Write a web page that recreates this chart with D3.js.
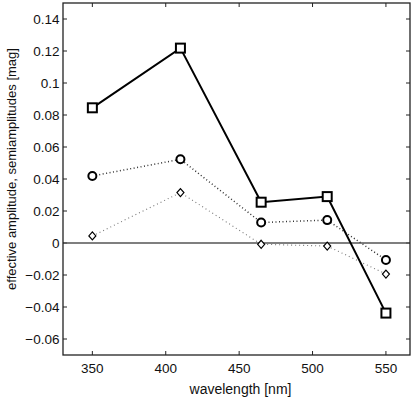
<!DOCTYPE html>
<html>
<head>
<meta charset="utf-8">
<script src="https://cdn.jsdelivr.net/npm/d3@7"></script>
<style>
  body { margin: 0; background: #fff; }
  text { font-family: "Liberation Sans", Arial, sans-serif; }
</style>
</head>
<body>
<div id="chart-container"></div>
<script>
/**************************************************
 * Data
 **************************************************/
const wavelengths = [350, 410, 465, 510, 550];
const effectiveAmp = [0.0845, 0.1218, 0.0255, 0.029, -0.0438];
const semiAmpCircle = [0.0419, 0.0523, 0.0128, 0.0143, -0.0106];
const semiAmpDiamond = [0.0044, 0.0315, -0.0008, -0.0019, -0.0194];
const xTicks = [350, 400, 450, 500, 550];
const yTicks = [-0.06, -0.04, -0.02, 0, 0.02, 0.04, 0.06, 0.08, 0.1, 0.12, 0.14];

/**************************************************
 * Rendering
 **************************************************/
function renderChart() {
  const width = 419, height = 398;
  const plotL = 63, plotR = 410, plotT = 3, plotB = 355;

  const svg = d3.select("#chart-container")
    .append("svg")
    .attr("width", width)
    .attr("height", height);

  const x = d3.scaleLinear().domain([330, 566.4]).range([plotL, plotR]);
  const y = d3.scaleLinear().domain([-0.07, 0.15]).range([plotB, plotT]);

  const fmt = v => {
    if (v === 0) return "0";
    return String(+v.toFixed(2)).replace("-", "\u2212");
  };

  // ticks inward on all four sides
  const tickLen = 4;
  const frame = svg.append("g").attr("stroke", "#222").attr("stroke-width", 1);
  xTicks.forEach(t => {
    frame.append("line").attr("x1", x(t)).attr("x2", x(t)).attr("y1", plotB).attr("y2", plotB - tickLen);
    frame.append("line").attr("x1", x(t)).attr("x2", x(t)).attr("y1", plotT).attr("y2", plotT + tickLen);
  });
  yTicks.forEach(t => {
    frame.append("line").attr("x1", plotL).attr("x2", plotL + tickLen).attr("y1", y(t)).attr("y2", y(t));
    frame.append("line").attr("x1", plotR).attr("x2", plotR - tickLen).attr("y1", y(t)).attr("y2", y(t));
  });

  // zero line
  svg.append("line")
    .attr("x1", plotL).attr("x2", plotR)
    .attr("y1", y(0)).attr("y2", y(0))
    .attr("stroke", "#555").attr("stroke-width", 1.3);

  svg.append("rect")
    .attr("x", plotL).attr("y", plotT)
    .attr("width", plotR - plotL).attr("height", plotB - plotT)
    .attr("fill", "none").attr("stroke", "#222").attr("stroke-width", 1.3);

  // tick labels
  xTicks.forEach(t => {
    svg.append("text")
      .attr("x", x(t)).attr("y", 373)
      .attr("text-anchor", "middle")
      .attr("font-size", "13.5px")
      .attr("fill", "#111")
      .text(t);
  });
  yTicks.forEach(t => {
    svg.append("text")
      .attr("x", 59.5).attr("y", y(t))
      .attr("text-anchor", "end")
      .attr("dominant-baseline", "central")
      .attr("font-size", "13.5px")
      .attr("fill", "#111")
      .text(fmt(t));
  });

  // axis labels
  svg.append("text")
    .attr("x", (plotL + plotR) / 2 + 4).attr("y", 394)
    .attr("text-anchor", "middle")
    .attr("font-size", "14px")
    .attr("fill", "#111")
    .text("wavelength [nm]");

  svg.append("text")
    .attr("transform", "translate(11, 169) rotate(-90)")
    .attr("text-anchor", "middle")
    .attr("dominant-baseline", "central")
    .attr("font-size", "13px")
    .attr("fill", "#111")
    .text("effective amplitude, semiamplitudes [mag]");

  const line = d3.line().x((d, i) => x(wavelengths[i])).y(d => y(d));

  // diamond series
  svg.append("path")
    .datum(semiAmpDiamond)
    .attr("d", line)
    .attr("fill", "none")
    .attr("stroke", "#777")
    .attr("stroke-width", 1.1)
    .attr("stroke-dasharray", "1,3");

  // circle series
  svg.append("path")
    .datum(semiAmpCircle)
    .attr("d", line)
    .attr("fill", "none")
    .attr("stroke", "#333")
    .attr("stroke-width", 1.5)
    .attr("stroke-dasharray", "1,2.5");

  // square series
  svg.append("path")
    .datum(effectiveAmp)
    .attr("d", line)
    .attr("fill", "none")
    .attr("stroke", "#000")
    .attr("stroke-width", 2);

  semiAmpDiamond.forEach((v, i) => {
    const cx = x(wavelengths[i]), cy = y(v);
    svg.append("path")
      .attr("d", `M${cx},${cy - 4}L${cx + 3.5},${cy}L${cx},${cy + 4}L${cx - 3.5},${cy}Z`)
      .attr("fill", "#fff")
      .attr("stroke", "#000")
      .attr("stroke-width", 1.2);
  });

  semiAmpCircle.forEach((v, i) => {
    svg.append("circle")
      .attr("cx", x(wavelengths[i])).attr("cy", y(v))
      .attr("r", 4)
      .attr("fill", "#fff")
      .attr("stroke", "#000")
      .attr("stroke-width", 2);
  });

  effectiveAmp.forEach((v, i) => {
    svg.append("rect")
      .attr("x", x(wavelengths[i]) - 4.5).attr("y", y(v) - 4.5)
      .attr("width", 9).attr("height", 9)
      .attr("fill", "#fff")
      .attr("stroke", "#000")
      .attr("stroke-width", 2);
  });
}

renderChart();
</script>
</body>
</html>
